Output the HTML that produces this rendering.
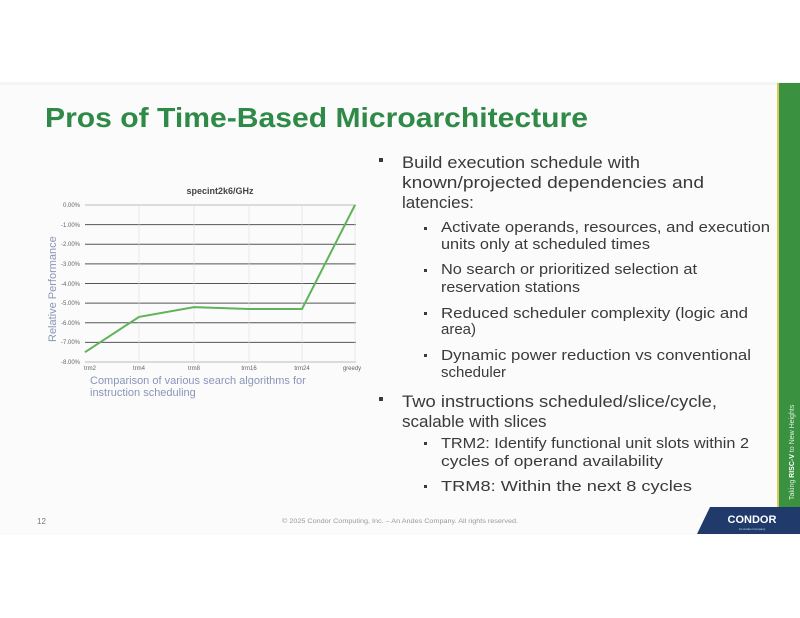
<!DOCTYPE html>
<html><head><meta charset="utf-8"><style>
html,body{margin:0;padding:0;background:#fff;}
svg{display:block;}
</style></head><body>
<svg width="800" height="618" viewBox="0 0 800 618" xmlns="http://www.w3.org/2000/svg" font-family="Liberation Sans, sans-serif">
<rect x="0" y="82" width="800" height="453" fill="#fbfbfb"/>
<rect x="0" y="82" width="800" height="3" fill="#f4f4f4"/>
<!-- green side bar -->
<rect x="777" y="83" width="2" height="424" fill="#d8c85a"/>
<rect x="779" y="83" width="21" height="424" fill="#3a9240"/>
<text transform="translate(794,500) rotate(-90)" font-size="7" fill="#dfeedd">Taking <tspan font-weight="bold" fill="#fff">RISC-V</tspan> to New Heights</text>
<!-- logo -->
<polygon points="710,507 800,507 800,534 697,534" fill="#1f3a6b"/>
<text x="752" y="523" font-size="11" font-weight="bold" fill="#fff" text-anchor="middle">CONDOR</text>
<text x="752" y="530" font-size="3" fill="#cdd" text-anchor="middle">An Andes Company</text>
<!-- title -->
<text x="45" y="127" font-size="28" font-weight="bold" fill="#2e8a46" textLength="543" lengthAdjust="spacingAndGlyphs">Pros of Time-Based Microarchitecture</text>
<!-- chart -->
<text x="220" y="194" font-size="9" font-weight="bold" fill="#444" text-anchor="middle">specint2k6/GHz</text>
<g stroke="#555" stroke-width="1">
<line x1="85" y1="205" x2="356" y2="205" stroke="#bbb"/>
<line x1="85" y1="224.6" x2="356" y2="224.6"/>
<line x1="85" y1="244.3" x2="356" y2="244.3"/>
<line x1="85" y1="263.9" x2="356" y2="263.9"/>
<line x1="85" y1="283.5" x2="356" y2="283.5"/>
<line x1="85" y1="303.1" x2="356" y2="303.1"/>
<line x1="85" y1="322.8" x2="356" y2="322.8"/>
<line x1="85" y1="342.4" x2="356" y2="342.4"/>
<line x1="85" y1="362" x2="356" y2="362" stroke="#bbb"/>
</g>
<g stroke="#ddd" stroke-width="0.6">
<line x1="139" y1="205" x2="139" y2="362"/><line x1="194" y1="205" x2="194" y2="362"/>
<line x1="249" y1="205" x2="249" y2="362"/><line x1="302" y1="205" x2="302" y2="362"/>
<line x1="355" y1="205" x2="355" y2="362"/>
</g>
<g font-size="6" fill="#666" text-anchor="end">
<text x="80" y="207">0.00%</text><text x="80" y="227">-1.00%</text><text x="80" y="246">-2.00%</text>
<text x="80" y="266">-3.00%</text><text x="80" y="286">-4.00%</text><text x="80" y="305">-5.00%</text>
<text x="80" y="325">-6.00%</text><text x="80" y="344">-7.00%</text><text x="80" y="364">-8.00%</text>
</g>
<g font-size="6" fill="#666" text-anchor="middle">
<text x="90" y="370">trm2</text><text x="139" y="370">trm4</text><text x="194" y="370">trm8</text>
<text x="249" y="370">trm16</text><text x="302" y="370">trm24</text><text x="352" y="370">greedy</text>
</g>
<polyline points="85,352.2 139,316.9 194,307.1 249,309 302,309 355,205" fill="none" stroke="#5fb35a" stroke-width="2"/>
<text transform="translate(56,342) rotate(-90)" font-size="11" fill="#8a96b8">Relative Performance</text>
<text x="90" y="384" font-size="11" fill="#8a96b8">Comparison of various search algorithms for</text>
<text x="90" y="396" font-size="11" fill="#8a96b8">instruction scheduling</text>
<!-- bullets -->
<g fill="#3a3a3a">
<g font-size="17">
<rect x="379" y="158" width="4" height="4"/>
<text x="402" y="168" textLength="238" lengthAdjust="spacingAndGlyphs">Build execution schedule with</text>
<text x="402" y="188" textLength="302" lengthAdjust="spacingAndGlyphs">known/projected dependencies and</text>
<text x="402" y="208">latencies:</text>
<rect x="379" y="397" width="4" height="4"/>
<text x="402" y="407" textLength="315" lengthAdjust="spacingAndGlyphs">Two instructions scheduled/slice/cycle,</text>
<text x="402" y="427">scalable with slices</text>
</g>
<g font-size="15">
<rect x="424" y="227" width="3" height="3"/>
<text x="441" y="232" textLength="329" lengthAdjust="spacingAndGlyphs">Activate operands, resources, and execution</text>
<text x="441" y="249" textLength="209" lengthAdjust="spacingAndGlyphs">units only at scheduled times</text>
<rect x="424" y="269" width="3" height="3"/>
<text x="441" y="274" textLength="256" lengthAdjust="spacingAndGlyphs">No search or prioritized selection at</text>
<text x="441" y="292" textLength="139" lengthAdjust="spacingAndGlyphs">reservation stations</text>
<rect x="424" y="312" width="3" height="3"/>
<text x="441" y="318" textLength="307" lengthAdjust="spacingAndGlyphs">Reduced scheduler complexity (logic and</text>
<text x="441" y="334">area)</text>
<rect x="424" y="354" width="3" height="3"/>
<text x="441" y="360" textLength="310" lengthAdjust="spacingAndGlyphs">Dynamic power reduction vs conventional</text>
<text x="441" y="377">scheduler</text>
<rect x="424" y="442" width="3" height="3"/>
<text x="441" y="448" textLength="308" lengthAdjust="spacingAndGlyphs">TRM2: Identify functional unit slots within 2</text>
<text x="441" y="466" textLength="222" lengthAdjust="spacingAndGlyphs">cycles of operand availability</text>
<rect x="424" y="485" width="3" height="3"/>
<text x="441" y="491" textLength="251" lengthAdjust="spacingAndGlyphs">TRM8: Within the next 8 cycles</text>
</g>
</g>
<!-- footer -->
<text x="37" y="524" font-size="8" fill="#777">12</text>
<text x="282" y="523" font-size="6.6" fill="#999" textLength="236" lengthAdjust="spacingAndGlyphs">© 2025 Condor Computing, Inc. – An Andes Company. All rights reserved.</text>
</svg>
</body></html>
